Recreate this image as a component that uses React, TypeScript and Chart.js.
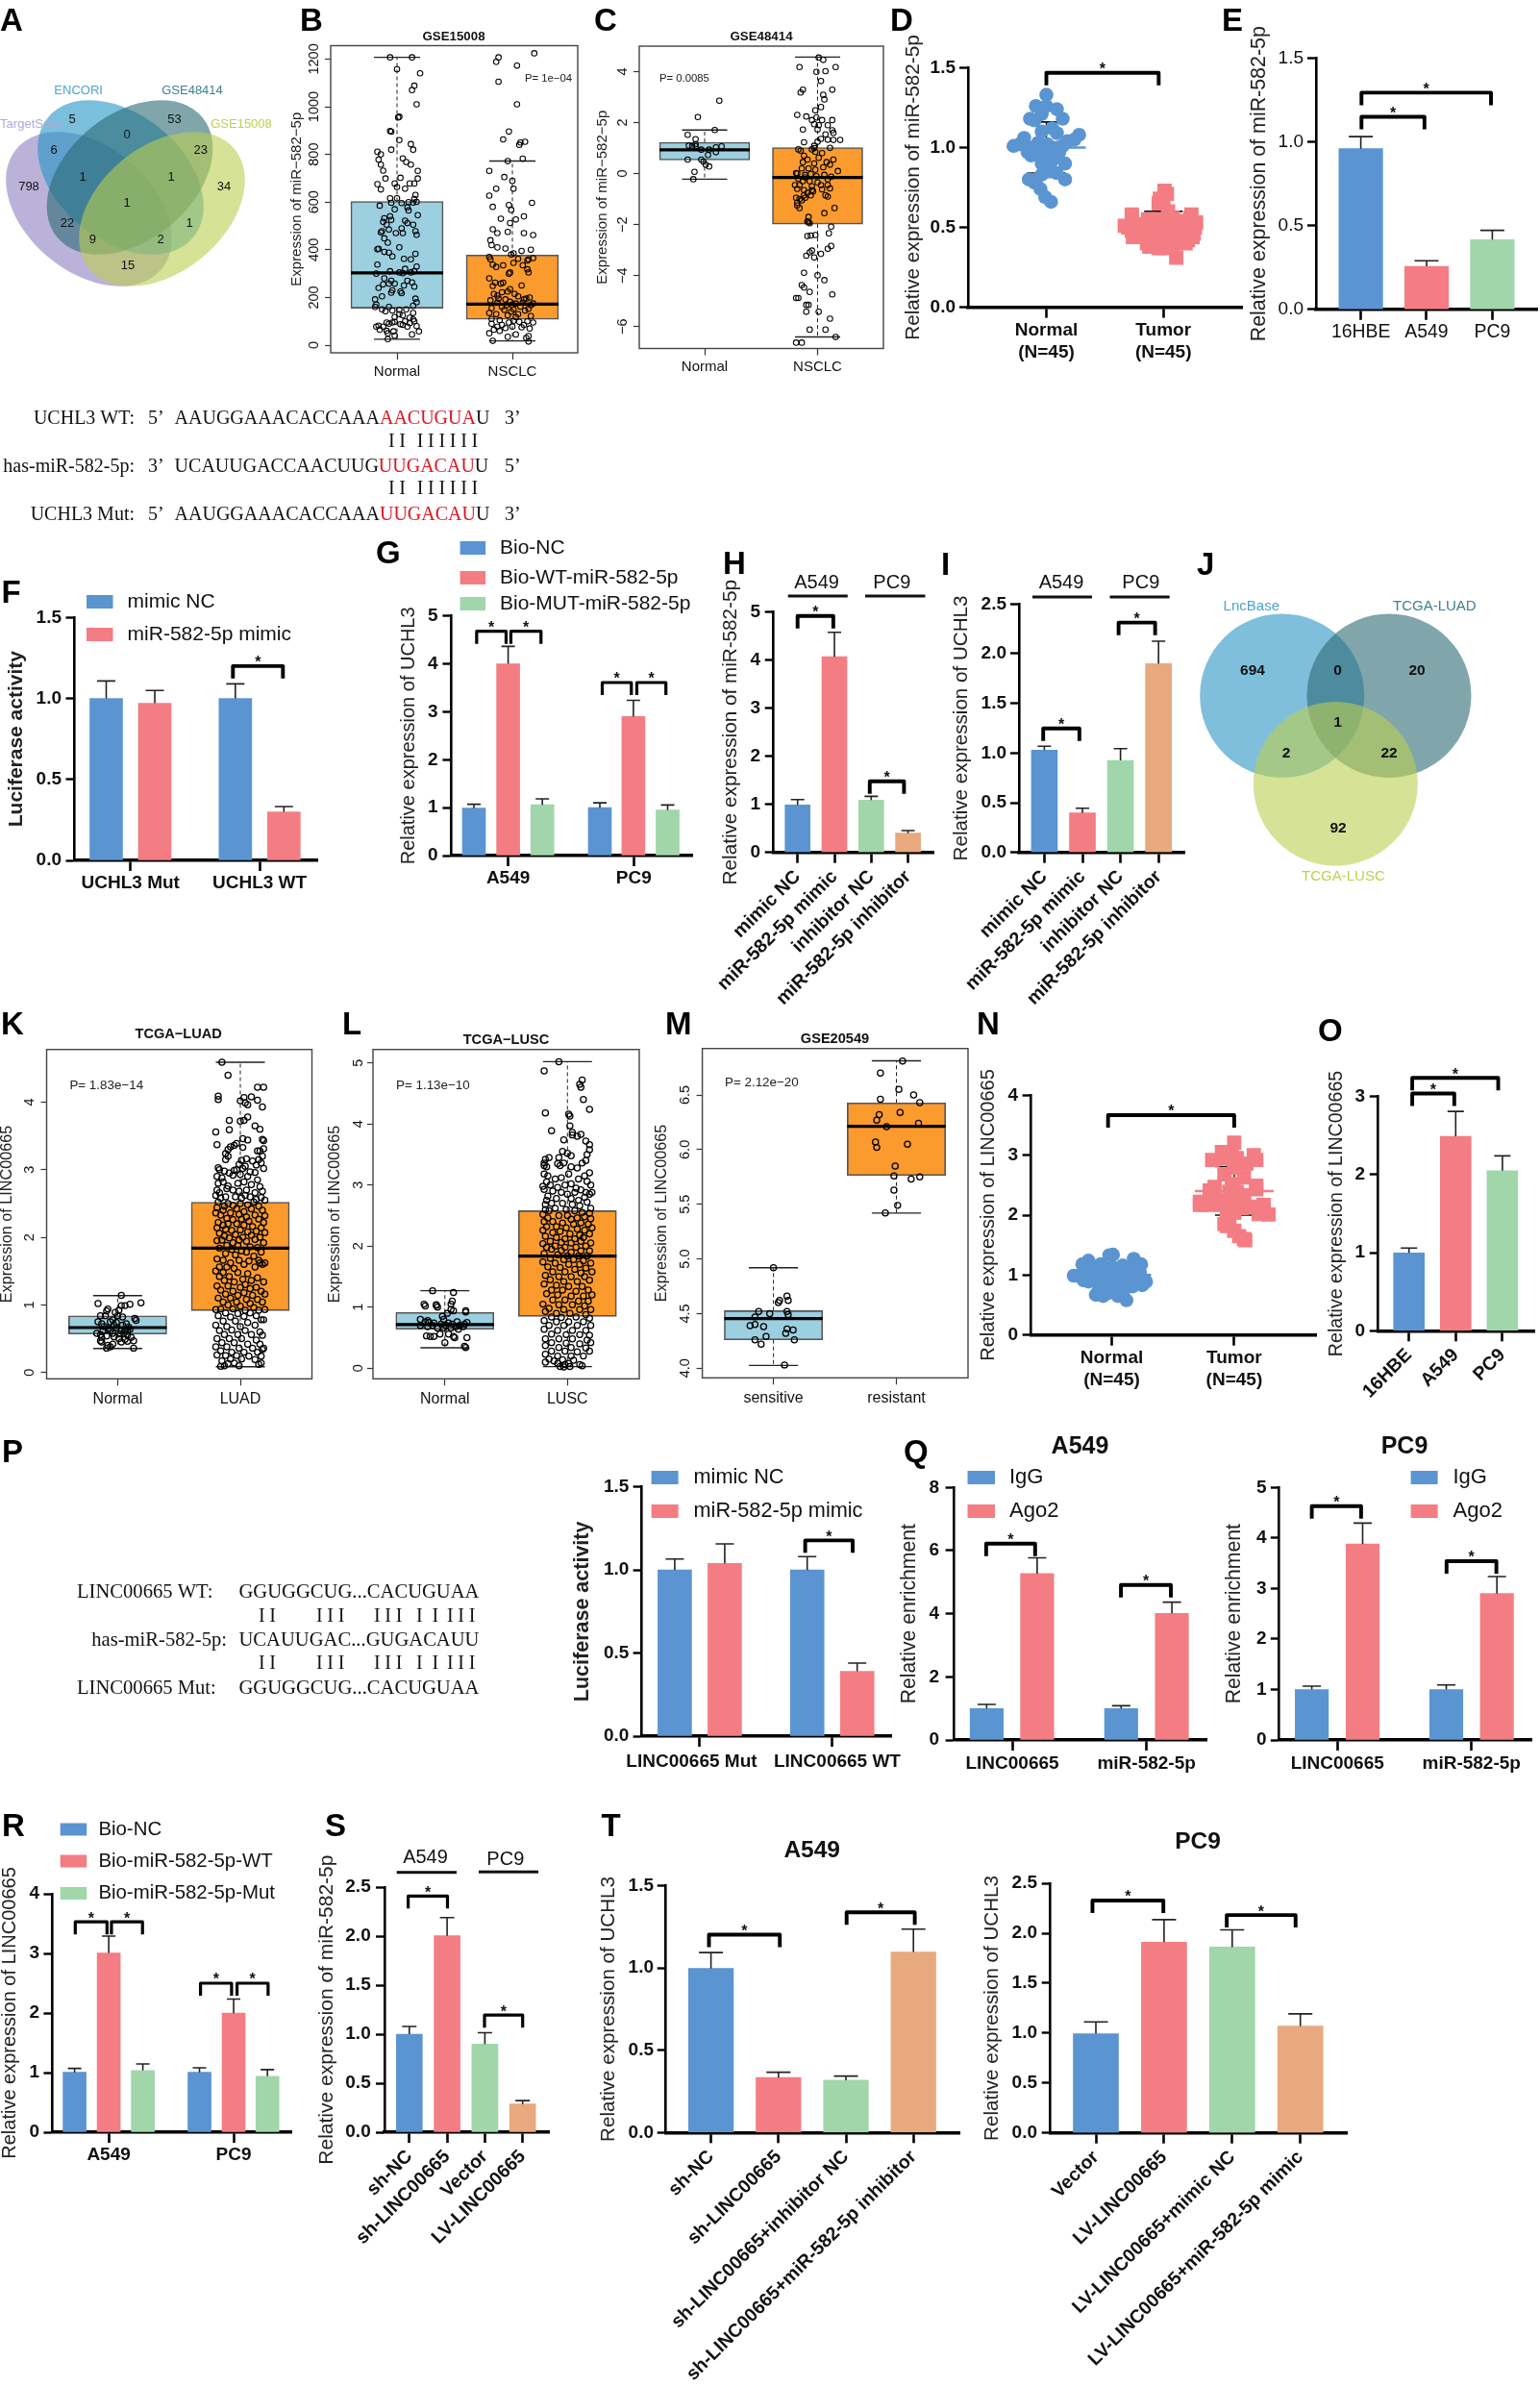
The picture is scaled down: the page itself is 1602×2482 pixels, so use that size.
import { useEffect, useRef } from 'react';
import Chart from 'chart.js/auto';

const SANS = '"Liberation Sans", Arial, sans-serif';
const SERIF = '"Liberation Serif", "Times New Roman", serif';
const BLUE = '#5a95d2', PINK = '#f47d83', GREEN = '#a1d5aa', TAN = '#e8a97e';
const BOXBLUE = '#9ccfdf', BOXORANGE = '#fb9a2d';

/* ---------- bar values ---------- */
const eLabels = ['16HBE', 'A549', 'PC9'];
const eValues = [0.96, 0.257, 0.417];
const eErrors = [1.032, 0.29, 0.472];
const fLabels = ['UCHL3 Mut', 'UCHL3 WT'];
const fValues = [1.0, 0.97, 1.0, 0.3];
const fErrors = [1.108, 1.049, 1.09, 0.332];
const gLabels = ['A549', 'PC9'];
const gValues = [0.99, 4.0, 1.06, 1.0, 2.9, 0.95];
const gErrors = [1.07, 4.365, 1.183, 1.1, 3.24, 1.056];
const hLabels = ['mimic NC', 'miR-582-5p mimic', 'inhibitor NC', 'miR-582-5p inhibitor'];
const hValues = [0.987, 4.07, 1.087, 0.4];
const hErrors = [1.1, 4.58, 1.167, 0.453];
const iValues = [1.03, 0.397, 0.926, 1.9];
const iErrors = [1.068, 0.445, 1.045, 2.126];
const oLabels = ['16HBE', 'A549', 'PC9'];
const oValues = [0.997, 2.49, 2.05];
const oErrors = [1.06, 2.81, 2.24];
const pLabels = ['LINC00665 Mut   ', '  LINC00665 WT'];
const pValues = [1.0, 1.04, 1.0, 0.39];
const pErrors = [1.066, 1.157, 1.08, 0.44];
const qLabels = ['LINC00665', 'miR-582-5p'];
const qaValues = [0.995, 5.27, 0.995, 4.01];
const qaErrors = [1.127, 5.77, 1.086, 4.365];
const qpValues = [1.0, 3.88, 1.0, 2.9];
const qpErrors = [1.066, 4.295, 1.09, 3.236];
const rLabels = ['A549', 'PC9'];
const rValues = [1.005, 3.008, 1.037, 1.005, 1.997, 0.94];
const rErrors = [1.07, 3.29, 1.146, 1.08, 2.234, 1.05];
const sLabels = ['sh-NC', 'sh-LINC00665', 'Vector', 'LV-LINC00665'];
const sValues = [1.0, 2.005, 0.9, 0.288];
const sErrors = [1.08, 2.19, 1.016, 0.323];
const taLabels = ['sh-NC', 'sh-LINC00665', 'sh-LINC00665+inhibitor NC', 'sh-LINC00665+miR-582-5p inhibitor'];
const taValues = [0.997, 0.334, 0.318, 1.097];
const taErrors = [1.094, 0.366, 0.343, 1.236];
const tpLabels = ['Vector', 'LV-LINC00665', 'LV-LINC00665+mimic NC', 'LV-LINC00665+miR-582-5p mimic'];
const tpValues = [0.994, 1.911, 1.862, 1.07];
const tpErrors = [1.112, 2.137, 2.034, 1.193];

/* ---------- dot plots: jitter (% of category gap), value ---------- */
const dNormal = [0,1.33,-9,1.26,0,1.26,9,1.24,-4,1.21,-14,1.18,14,1.18,-10,1.17,5,1.12,-4,1.1,9,1.09,28,1.08,-19,1.06,24,1.05,18,1.04,-28,1.01,-23,1.02,14,1.01,-6,1.01,5,1,-12,1,-16,.97,-2,.97,11,.97,-8,.96,7,.94,16,.9,-4,.9,3,.89,3,.85,9,.84,-4,.83,-15,.8,16,.8,-10,.78,-5,.74,-1,.69,4,.66,-7,1.03,1,1.02,10,1,-13,.95,5,.92,0,.87,-9,.8];
const dTumor = [1,.73,3,.71,-3,.68,0,.66,-4,.65,4,.6,-27,.58,24,.58,-27,.57,23,.56,-13,.55,-5,.55,8,.56,28,.53,14,.54,-18,.52,5,.53,-33,.51,27,.5,10,.51,-30,.5,-12,.5,-2,.5,18,.5,-27,.48,-20,.47,-7,.48,5,.47,13,.46,26,.46,-26,.44,-14,.44,25,.44,-2,.43,2,.42,21,.42,19,.4,-12,.38,-7,.38,0,.37,-14,.4,-4,.37,8,.38,10,.41,11,.31];
const nNormal = [1,1.34,-2,1.33,-19,1.24,18,1.27,-24,1.18,24,1.18,-9,1.18,9,1.16,-15,1.07,-23,1.05,1,1.13,-6,1.07,7,1.07,19,1.1,-28,.99,-15,1,17,1,1,.99,-31,.99,-23,.91,-19,.89,-3,.89,7,.91,15,.89,28,.89,25,.83,-7,.83,17,.81,11,.78,-11,.73,-7,.65,-3,.7,5,.65,7,.7,12,.58,-13,.67,-11,1.1,11,.98,23,1.05,-4,.98,6,.86,1,.78,-19,.95,22,.94,-10,.89];
const nTumor = [0,3.21,-10,3.05,-2,3.05,16,3,-18,2.92,18,2.92,-8,2.95,2,2.95,0,2.79,10,2.86,-8,2.68,8,2.63,18,2.49,-16,2.47,-2,2.52,-20,2.41,-4,2.39,18,2.43,8,2.33,-28,2.22,-20,2.2,-10,2.24,0,2.28,8,2.22,24,2.17,16,2.14,-20,2.18,-12,2.17,-2,2.12,6,2.12,24,2.09,20,2.02,28,2.01,-6,2.01,0,2.04,-28,2.17,-6,1.82,-8,1.85,0,1.74,4,1.65,8,1.6,9,1.58,-4,1.96,-24,2.17,-14,2.22,2,2.39];

/* ---------- box plots: [low whisker, q1, median, q3, high whisker] ---------- */
const bStats = [[25,155,303,603,1207],[18,108,172,378,772]];
const cStats = [[-0.22,0.53,0.93,1.23,1.71],[-6.41,-1.98,-0.15,1.02,4.57]];
const kStats = [[0.355,0.569,0.664,0.839,1.137],[0.085,0.915,1.84,2.52,4.59]];
const lStats = [[0.336,0.64,0.714,0.914,1.27],[0.026,0.85,1.838,2.58,5.02]];
const mStats = [[4.026,4.26,4.454,4.527,4.92],[5.42,5.764,6.213,6.427,6.813]];

/* ---------- box plot points: jitter (% of category gap), value ---------- */
const bNormal = [-6,1207,13,1207,0,1157,20,1140,15,1088,13,1070,17,1010,2,958,1,955,-6,898,-5,895,2,860,12,843,-5,820,14,820,-17,811,-14,800,-16,778,5,783,8,768,12,757,-14,757,-12,732,18,731,3,702,-10,699,18,699,-17,675,-2,678,15,678,11,678,-14,653,0,663,7,656,16,630,15,613,-6,616,0,616,-5,597,4,596,10,600,14,598,17,601,-15,585,9,578,-2,570,10,565,-6,540,-11,532,-5,525,7,522,18,545,-12,517,-9,505,9,512,14,505,4,490,-14,473,-13,478,-7,485,-1,470,5,470,16,478,17,463,-11,448,-8,430,-16,404,-17,402,-11,391,-7,388,16,383,2,410,-4,372,6,362,12,360,-17,338,7,320,17,330,-6,310,-18,300,2,305,5,302,12,305,15,310,-11,280,-5,270,9,270,13,263,-2,258,-12,255,-7,258,-16,240,6,250,15,245,-4,230,3,225,-5,220,-13,205,4,218,-19,192,16,195,17,180,-18,170,-19,160,14,165,-7,160,-13,150,-4,145,2,148,-10,142,8,150,14,135,2,130,5,125,-2,118,11,115,14,108,7,100,-16,82,-18,78,-12,78,-9,95,-7,90,-4,95,-2,98,3,88,5,85,11,92,15,100,17,80,9,78,-15,65,-9,60,-3,58,19,58,13,45,-2,40,-8,50,-8,25];
const bNSCLC = [19,1224,-12,1207,-14,1188,4,1172,-12,1105,4,1010,-3,896,-8,863,11,853,7,850,6,840,-4,772,9,782,-20,731,-7,705,0,689,1,656,-14,656,-20,627,17,597,-3,588,-17,580,-1,567,10,540,-10,530,3,527,-2,512,-17,486,-13,470,10,470,18,462,-4,475,-19,440,-13,410,-18,420,-6,405,8,395,16,400,-20,370,1,385,-1,380,-19,360,-8,335,-14,328,-2,305,-17,338,18,365,14,360,13,355,5,362,1,345,9,335,13,318,14,305,-3,300,-20,280,-15,262,-8,262,-10,258,-17,248,8,250,-2,235,-4,225,2,215,-16,215,-13,208,-9,222,-12,195,-6,192,5,205,12,195,10,192,15,200,-19,188,-13,178,-2,182,0,170,3,175,-5,168,9,178,16,168,18,175,-18,155,-9,160,-7,148,1,150,7,162,-1,140,11,145,14,152,-20,135,-14,130,5,130,-4,125,3,118,16,122,-18,110,-11,105,1,102,6,98,13,100,18,95,-18,90,-9,85,-13,78,-6,72,-3,95,8,75,10,85,15,70,-16,65,-11,60,0,78,-20,50,-4,35,3,45,12,30,14,38,14,15,-17,18];
const cNormal = [13,2.86,-6,2.22,9,1.71,-15,1.52,-8,1.35,-14,1.1,-11,1.07,-8,1.07,-8,1.15,-3,.94,10,.84,4,.94,10,1.03,15,1.07,-15,.55,3,.73,-3,.55,-1,.47,1,.35,4,.28,-9,.07,-10,-.22];
const cNSCLC = [1,4.55,5,4.46,-16,4.18,16,4.18,-1,3.99,7,4.02,3,3.63,13,3.29,-13,3.29,-15,3.18,5,3.09,6,2.91,3,2.61,-2,2.48,-18,2.3,-10,2.24,-1,2.2,4,2.1,13,2.1,-5,2.1,-3,1.94,1,1.9,9,1.9,-13,1.73,0,1.73,13,1.7,14,1.6,7,1.54,3,1.36,9,1.33,14,1.32,20,1.32,-12,1.23,0,1.25,-3,1.09,11,1.01,-17,.95,-15,.9,-5,.95,-2,.85,-3,1,4,.8,-12,.7,1,.62,-9,.55,-13,.45,-3,.4,8,.45,11,.35,14,.55,18,.1,-14,.2,-8,.2,-2,.15,5,.25,-19,.02,-18,.0,-11,-.05,-6,-.02,-1,-.1,6,-.05,-17,-.2,-13,-.3,0,-.35,9,-.22,12,-.12,-16,-.45,-11,-.15,-7,-.3,-5,-.5,3,-.45,9,-.45,-18,-.6,-20,-.45,-12,-.65,-9,-.75,-4,-.7,-5,-.65,4,-.62,11,-.58,-19,-.95,-16,-1.0,-12,-.85,7,-.85,9,-.9,-14,-1.05,-18,-1.15,-18,-1.25,-16,-1.35,-6,-.85,-11,-.95,15,-1.35,6,-1.55,-8,-1.7,-7,-1.95,-9,-1.88,12,-2.08,-8,-1.91,10,-2.34,-9,-2.45,-6,-2.43,-2,-2.41,12,-2.84,9,-2.95,-5,-3.02,-7,-3.09,-10,-3.22,3,-3.15,-3,-3.29,-12,-3.89,0,-3.99,6,-4.18,-14,-4.37,-12,-4.47,-7,-4.64,13,-4.74,-17,-4.88,-19,-4.88,-10,-5.15,-8,-5.15,-10,-5.42,1,-5.42,11,-5.69,-7,-6.12,7,-6.12,16,-6.41,-19,-6.63,-14,-6.63];
const kNormal = [3,1.14,-16,1.02,19,1.03,3,.99,10,1.01,6,.99,-8,.94,-9,.91,1,.92,-2,.89,-14,.84,-10,.84,0,.84,4,.82,15,.77,14,.8,-16,.75,-6,.75,-13,.72,-4,.78,7,.72,-11,.68,-8,.65,-3,.7,-1,.66,3,.62,8,.61,9,.67,-12,.62,-6,.62,-4,.58,2,.57,6,.63,10,.64,-17,.58,-14,.56,-13,.52,-9,.54,-3,.53,1,.5,6,.49,8,.55,11,.52,-14,.47,-13,.45,3,.45,8,.46,13,.47,-4,.42,-6,.38,-9,.36,-8,.4,13,.36,5,.58,-1,.74,4,.7];
const kLUAD = [-15,4.59,-10,4.4,14,4.22,19,4.22,-18,4.09,-18,4.04,9,4.08,3,4.07,0,4.02,14,4.03,4,3.99,6,3.96,18,3.93,6,3.78,-9,3.73,0,3.72,3,3.73,12,3.65,16,3.6,-9,3.59,-20,3.56,2,3.46,6,3.44,18,3.45,19,3.43,-19,3.37,-3,3.39,-8,3.34,-10,3.3,-12,3.24,16,3.28,19,3.31,14,3.28,2,3.33,-5,3.36,18,3.2,15,3.15,-12,3.15,-10,3.2,1,3.14,5,3.16,10,3.13,-1,3.08,4,3.05,13,3.07,17,3.1,-18,3.03,-17,3,-13,2.98,-9,2.95,-5,2.99,-3,3,2,3.02,8,2.97,12,2.96,19,3.02,-19,2.9,-15,2.88,-6,2.92,0,2.93,6,2.9,14,2.85,-18,2.8,-14,2.82,-10,2.76,-2,2.8,3,2.82,9,2.78,16,2.75,-19,2.7,-17,2.66,-11,2.72,-6,2.7,-1,2.68,5,2.7,12,2.66,18,2.68,-20,2.62,-16,2.58,-12,2.6,-4,2.6,1,2.58,4,2.62,8,2.6,13,2.56,17,2.59,20,2.55,-18,2.52,-10,2.5,-6,2.47,0,2.5,6,2.48,11,2.52,15,2.46,-19,2.44,-14,2.4,-13,2.46,-3,2.42,3,2.38,9,2.42,18,2.4,-20,2.36,-16,2.33,-8,2.36,-1,2.34,5,2.3,12,2.33,20,2.32,-11,2.28,-6,2.26,1,2.27,7,2.24,15,2.27,19,2.22,-18,2.22,-14,2.18,-10,2.2,-3,2.2,3,2.18,10,2.16,17,2.14,-19,2.14,-12,2.12,-7,2.1,0,2.11,6,2.08,13,2.09,20,2.07,-17,2.06,-13,2.02,-4,2.04,2,2,9,2.03,16,2,-9,1.99,-1,1.96,5,1.94,12,1.97,-6,1.92,-15,1.96,-19,1.95,19,1.92,-11,1.88,-2,1.88,8,1.86,14,1.85,-17,1.84,-7,1.82,1,1.8,5,1.78,17,1.78,-12,1.76,-4,1.74,11,1.72,-19,1.68,-14,1.66,-1,1.66,7,1.65,15,1.66,20,1.62,-8,1.62,3,1.6,-17,1.56,-11,1.56,-5,1.54,12,1.56,18,1.6,16,1.62,-20,1.5,-14,1.48,-2,1.48,6,1.46,-17,1.42,-9,1.42,2,1.38,9,1.36,14,1.4,-13,1.36,-5,1.34,4,1.3,19,1.34,-19,1.28,-10,1.28,0,1.26,8,1.24,13,1.26,-16,1.22,-6,1.2,3,1.18,17,1.2,-12,1.16,-2,1.14,10,1.14,20,1.16,-18,1.1,-8,1.1,5,1.08,14,1.08,-14,1.04,-3,1.04,8,1.02,18,1.04,-10,1,0,.98,11,.96,-20,.93,-16,.94,-6,.94,4,.92,15,.92,20,.93,-12,.88,-2,.87,8,.88,-18,.84,-8,.82,3,.83,13,.84,17,.78,19,.78,-14,.76,-4,.76,6,.74,-20,.7,-11,.68,0,.68,12,.7,-17,.62,-7,.63,4,.62,16,.6,-13,.56,-2,.56,9,.56,18,.55,-19,.5,-9,.5,1,.5,13,.48,-15,.44,-5,.44,6,.42,16,.42,-20,.38,-11,.38,-1,.36,10,.36,19,.36,-16,.32,-7,.3,3,.3,14,.3,18,.34,-19,.26,-12,.25,-3,.25,7,.24,17,.24,-8,.2,1,.2,12,.19,-15,.17,-10,.13,-5,.14,15,.12,17,.14,-16,.09,-13,.1,-1,.1];
const lNormal = [-10,1.27,7,1.24,6,1.1,5,1.05,-17,1.05,-16,1.02,-7,1.03,-6,1,-7,1.04,7,.94,5,.96,2,.9,17,.92,17,.94,-2,.85,-1,.8,10,.76,-20,.8,-16,.76,-14,.78,-13,.75,-9,.74,-3,.72,1,.7,3,.74,6,.72,9,.68,12,.7,16,.72,18,.75,-20,.7,-14,.68,-10,.7,-6,.66,-1,.66,5,.66,11,.64,15,.68,-15,.53,-12,.52,-9,.52,-4,.56,3,.56,7,.52,8,.5,18,.5,0,.42,17,.34,16,.36];
const lLUSC = [-7,5.02,-19,4.87,12,4.72,10,4.65,11,4.6,13,4.4,18,4.24,-18,4.18,1,4.16,2,4.13,-13,3.89,2,3.97,4,3.82,4,3.86,8,3.8,11,3.83,18,3.66,15,3.72,-3,3.74,18,3.58,16,3.5,-4,3.55,-7,3.45,0,3.52,3,3.48,-18,3.42,-19,3.36,-19,3.32,-17,3.3,-15,3.45,-8,3.35,-6,3.32,-3,3.36,3,3.3,8,3.28,12,3.36,15,3.4,18,3.2,14,3.15,-19,3.18,-16,3.15,-17,3.05,-10,3.1,-5,3.12,1,3.18,9,3.1,16,3.06,19,3,-20,2.98,-19,2.93,-14,3,-8,2.96,-2,3,3,3.02,7,2.95,-12,2.9,-5,2.88,0,2.85,6,2.88,11,2.92,15,2.88,18,2.85,20,2.88,-16,2.82,-17,2.75,-9,2.78,3,2.78,9,2.75,14,2.8,16,2.72,-18,2.68,-13,2.7,-4,2.7,4,2.68,10,2.66,19,2.62,-18,2.6,-15,2.58,-10,2.62,-1,2.6,6,2.58,12,2.55,18,2.54,-20,2.52,-16,2.46,-7,2.5,0,2.5,3,2.44,8,2.46,14,2.48,19,2.45,-19,2.4,-12,2.4,-4,2.38,5,2.36,11,2.38,17,2.36,-17,2.32,-9,2.32,-1,2.3,8,2.28,14,2.26,20,2.3,-20,2.26,-12,2.22,-6,2.24,2,2.2,10,2.18,18,2.2,-18,2.16,-9,2.14,-2,2.12,6,2.12,13,2.14,-14,2.08,-5,2.06,3,2.05,11,2.08,19,2.05,-20,2.04,-10,2,-2,1.98,7,1.98,15,2,-17,1.98,-13,1.95,-5,1.93,3,1.9,11,1.92,18,1.92,-19,1.88,-8,1.86,0,1.84,9,1.84,16,1.84,-14,1.8,-3,1.78,5,1.78,13,1.76,-20,1.74,-10,1.72,1,1.7,10,1.7,19,1.72,-16,1.66,-6,1.65,6,1.62,15,1.64,-12,1.58,-2,1.58,11,1.56,20,1.58,-18,1.52,-7,1.5,3,1.5,14,1.5,-14,1.45,-3,1.42,8,1.42,18,1.44,-19,1.38,-9,1.36,1,1.34,12,1.34,-13,1.28,-4,1.28,7,1.26,17,1.28,-17,1.22,-8,1.2,3,1.18,13,1.18,20,1.2,-12,1.12,-2,1.12,9,1.1,17,1.1,-20,1.05,-7,1.04,4,1.04,14,1.02,-15,.98,-3,.96,10,.96,19,.96,-18,.93,-9,.9,2,.9,15,.88,-13,.84,-5,.83,7,.84,18,.82,-19,.78,-9,.76,1,.76,13,.76,-15,.7,-3,.7,8,.7,19,.7,-19,.64,-8,.62,4,.62,15,.62,-13,.56,-1,.55,10,.55,18,.54,-18,.48,-7,.48,4,.48,16,.46,-13,.42,-1,.41,10,.4,19,.42,-18,.37,-7,.34,3,.34,15,.33,-13,.28,-2,.28,8,.27,18,.28,-18,.23,-8,.2,3,.2,13,.2,-15,.15,-11,.12,-4,.14,5,.13,-18,.1,-8,.08,-2,.06,1,.08,-6,.03,-3,.02,10,.06,12,.04,2,.03];
const mSensitive = [0,4.92,11,4.66,12,4.62,5,4.62,-12,4.52,-15,4.47,11,4.52,12,4.49,-19,4.39,11,4.36,-15,4.4,-8,4.38,16,4.35,10,4.32,-15,4.26,-3,4.5,-10,4.22,-6,4.29,17,4.26,9,4.03,4,4.6];
const mResistant = [5,6.81,-13,6.7,2,6.55,14,6.5,-13,6.46,19,6.43,-14,6.32,3,6.34,-16,6.27,18,6.24,-8,6.21,-17,6.07,-16,6.02,9,6.05,-1,5.85,-2,5.76,12,5.73,19,5.75,-2,5.63,1,5.49,-9,5.42];

/* ---------- panel text ---------- */
const panelLetters: any[] = [['A',0,32],['B',312,31.5],['C',618,32],['D',926,31.5],['E',1271,31.5],['F',1.5,627],['G',391,586],['H',752,597],['I',979,598],['J',1245,598],['K',1,1076],['L',356,1076],['M',692,1076],['N',1016,1076],['O',1371,1083],['P',2,1521],['Q',940,1521],['R',2,1910],['S',338,1910],['T',625.5,1910]];
const boxTitles: any[] = [['GSE15008',472,38.6,13.3],['GSE48414',792,38.6,13.3],['TCGA\u2212LUAD',185.7,1076,14.6],['TCGA\u2212LUSC',526.5,1082,14.6],['GSE20549',868.5,1081,14.6]];
const pTexts: any[] = [['P= 1e\u221204',546,82,11.3],['P= 0.0085',686,82,11.3],['P= 1.83e\u221214',72.4,1129,13.4],['P= 1.13e\u221210',412,1129,13.4],['P= 2.12e\u221220',754,1126.7,13.4]];
const plotTitles: any[] = [['A549',1123.5,1505,25],['PC9',1461,1505,25],['A549',844.7,1925.5,24.5],['PC9',1246,1916.3,24.5]];
const vennALabels: any[] = [['5',75,124.3],['53',181.6,124.3],['6',56,156.4],['0',132,140.4],['23',208.7,156.4],['798',30,194.3],['1',86,184.6],['1',178,184.6],['34',233,194.3],['1',132,211.8],['22',70,232.5],['1',197,232.5],['9',96.4,249.3],['2',167,249.3],['15',133,276.4]];
const vennANames: any[] = [['ENCORI',81.6,94.3,'#4aa5d2'],['GSE48414',200,94.3,'#3f8090'],['TargetScan',33,129.6,'#b3a5dc'],['GSE15008',251,129.6,'#bfcf50']];
const vennJLabels: any[] = [['694',1303,697.7],['0',1391.6,697.7],['20',1474,697.7],['1',1391.6,751.7],['2',1338,784],['22',1445,784],['92',1392,861.7]];
const vennJNames: any[] = [['LncBase',1301.8,631,'#4aa5d2'],['TCGA-LUAD',1492.3,630.7,'#3f8090'],['TCGA-LUSC',1397.4,911.7,'#bfcf50']];
const groupHeads: any[] = [['A549',849.6,606,819.7,881.8,620],['PC9',927.8,606.7,900,962.4,620],['A549',1104,606.7,1074,1136,621],['PC9',1186.8,606.7,1154.5,1216.7,621],['A549',442.5,1932.6,412.7,475,1947.7],['PC9',525.8,1934.6,498,560,1947.2]];
const uchl3Rows: any[] = [['UCHL3 WT:','5\u2019','AAUGGAAACACCAAA','AACUGUA','U','3\u2019',435.5],['has-miR-582-5p:','3\u2019','UCAUUGACCAACUUG','UUGACAU','U','5\u2019',486],['UCHL3 Mut:','5\u2019','AAUGGAAACACCAAA','UUGACAU','U','3\u2019',535.5]];
const lincRows: any[] = [['LINC00665 WT:',80,'left','GGUGGCUG...CACUGUAA',1657],['has-miR-582-5p:',236,'right','UCAUUGAC...GUGACAUU',1707],['LINC00665 Mut:',80,'left','GGUGGCUG...CACUGUAA',1756.5]];
const legends: any[] = [
  { names: ['mimic NC', 'miR-582-5p mimic'], colors: [BLUE, PINK], sx: 90, sw: 27.5, sh: 14, ys: [626, 660], tx: 132.6, size: 21 },
  { names: ['Bio-NC', 'Bio-WT-miR-582-5p', 'Bio-MUT-miR-582-5p'], colors: [BLUE, PINK, GREEN], sx: 478.6, sw: 26.5, sh: 14, ys: [570, 601, 628], tx: 520, size: 21 },
  { names: ['mimic NC', 'miR-582-5p mimic'], colors: [BLUE, PINK], sx: 677.6, sw: 28, sh: 14, ys: [1537, 1572], tx: 721.5, size: 21.7 },
  { names: ['IgG', 'Ago2'], colors: [BLUE, PINK], sx: 1006.5, sw: 28.5, sh: 14, ys: [1537, 1572], tx: 1050, size: 22 },
  { names: ['IgG', 'Ago2'], colors: [BLUE, PINK], sx: 1467.6, sw: 28, sh: 14, ys: [1537, 1572], tx: 1511.5, size: 22 },
  { names: ['Bio-NC', 'Bio-miR-582-5p-WT', 'Bio-miR-582-5p-Mut'], colors: [BLUE, PINK, GREEN], sx: 62.7, sw: 27.5, sh: 13, ys: [1903, 1936, 1969.5], tx: 102.4, size: 20.4 },
];

/* ---------- helpers ---------- */
function pts(flat: number[], cat: number) {
  const out: any[] = [];
  for (let i = 0; i + 1 < flat.length; i += 2) out.push({ x: cat + flat[i] / 100, y: flat[i + 1] });
  return out;
}
function measure(text: string, font: string) {
  const c = document.createElement('canvas').getContext('2d') as CanvasRenderingContext2D;
  c.font = font;
  return c.measureText(text).width;
}
function boxOf(p: any) {
  const left = Math.floor(p.plot.l - 80);
  const top = Math.floor(p.plot.t - 70);
  const w = Math.ceil(p.plot.r + 12) - left;
  const h = Math.ceil(p.plot.b + (p.rotate ? 262 : 72)) - top;
  return { left, top, w, h };
}

function buildConfig(p: any) {
  const b = boxOf(p);
  const r = p.plot.r, l = p.plot.l;
  const prism = p.kind !== 'box';
  const tickY = prism ? 9 : 6;
  const tickX = prism ? 11 : 7;
  const yFont = { family: SANS, size: p.ySize ?? 19, weight: p.yWeight ?? 'bold' };
  const fmt = (v: number) => v.toFixed(p.yDec ?? 0).replace('-', '\u2212');
  const yPad = prism
    ? l - tickY - p.yRight
    : l - tickY - p.yCx - Math.max(...p.yTicks.map((v: number) => measure(fmt(v), `${yFont.size}px ${SANS}`))) / 2;
  const xSize = p.xSize ?? (p.rotate ? 19.5 : 19);
  const xPad = p.rotate ? (p.xPad ?? 3) : p.xY - p.plot.b - tickX - (xSize * 1.2) / 2;
  const titleSize = p.tSize ?? 20.5;
  const datasets: any[] = [];
  if (p.kind === 'bar') {
    datasets.push({
      type: 'bar',
      data: p.values.map((v: number, i: number) => ({ x: p.slots[i], y: v })),
      backgroundColor: p.colors,
      borderWidth: 0,
      barThickness: p.barW,
    });
  } else if (p.kind === 'dot') {
    datasets.push({ type: 'scatter', data: pts(p.a, 0), pointStyle: 'circle', pointRadius: 7.3, backgroundColor: BLUE, borderWidth: 0 });
    datasets.push({ type: 'scatter', data: pts(p.c, 1), pointStyle: 'rect', pointRadius: 10.5, backgroundColor: PINK, borderWidth: 0 });
  } else {
    datasets.push({
      type: 'scatter',
      data: [...pts(p.a, 0), ...pts(p.c, 1)],
      pointRadius: p.pr ?? 3.1,
      backgroundColor: 'rgba(0,0,0,0)',
      borderColor: '#000',
      borderWidth: p.pw ?? 1.25,
    });
    datasets.push({
      type: 'bar',
      data: p.stats.map((s: number[], i: number) => ({ x: i, y: [s[1], s[3]] })),
      backgroundColor: [BOXBLUE, BOXORANGE],
      borderColor: '#555',
      borderWidth: 1.6,
      borderSkipped: false,
      barThickness: p.dx * 0.8,
    });
  }
  const deco = {
    id: 'deco' + p.id,
    beforeDatasetsDraw(chart: any) {
      const { ctx, scales: { x, y } } = chart;
      ctx.save();
      if (p.kind === 'box') {
        p.stats.forEach((s: number[], i: number) => {
          const px = x.getPixelForValue(i);
          ctx.strokeStyle = '#222'; ctx.lineWidth = 1;
          ctx.setLineDash([4, 3]);
          ctx.beginPath();
          ctx.moveTo(px, y.getPixelForValue(s[3])); ctx.lineTo(px, y.getPixelForValue(s[4]));
          ctx.moveTo(px, y.getPixelForValue(s[1])); ctx.lineTo(px, y.getPixelForValue(s[0]));
          ctx.stroke();
          ctx.setLineDash([]);
          ctx.lineWidth = 1.4;
          ctx.beginPath();
          const half = p.dx * 0.2;
          [s[0], s[4]].forEach((v) => { ctx.moveTo(px - half, y.getPixelForValue(v)); ctx.lineTo(px + half, y.getPixelForValue(v)); });
          ctx.stroke();
        });
      }
      if (p.kind === 'dot') {
        p.summary.forEach((m: number[], i: number) => {
          const px = x.getPixelForValue(i);
          ctx.strokeStyle = '#111'; ctx.lineWidth = 1.6;
          ctx.beginPath();
          ctx.moveTo(px, y.getPixelForValue(m[1])); ctx.lineTo(px, y.getPixelForValue(m[2]));
          [m[1], m[2]].forEach((v) => { ctx.moveTo(px - 20, y.getPixelForValue(v)); ctx.lineTo(px + 20, y.getPixelForValue(v)); });
          ctx.stroke();
          ctx.strokeStyle = i === 0 ? BLUE : PINK; ctx.lineWidth = 2.5;
          ctx.beginPath();
          ctx.moveTo(px - 41, y.getPixelForValue(m[0])); ctx.lineTo(px + 41, y.getPixelForValue(m[0]));
          ctx.stroke();
        });
      }
      ctx.restore();
    },
    afterDatasetDraw(chart: any, args: any) {
      if (p.kind !== 'box' || args.index !== 1) return;
      const { ctx, scales: { x, y } } = chart;
      ctx.save();
      ctx.strokeStyle = '#000'; ctx.lineWidth = 3.2;
      ctx.beginPath();
      p.stats.forEach((s: number[], i: number) => {
        const px = x.getPixelForValue(i), py = y.getPixelForValue(s[2]);
        ctx.moveTo(px - p.dx * 0.4, py); ctx.lineTo(px + p.dx * 0.4, py);
      });
      ctx.stroke();
      ctx.restore();
    },
    afterDatasetsDraw(chart: any) {
      const { ctx, chartArea: a, scales: { x, y } } = chart;
      ctx.save();
      if (p.kind === 'box') {
        ctx.strokeStyle = '#444'; ctx.lineWidth = 1.4;
        ctx.strokeRect(a.left, a.top, a.right - a.left, a.bottom - a.top);
      }
      if (p.kind === 'bar') {
        ctx.strokeStyle = '#222'; ctx.lineWidth = 1.6;
        ctx.beginPath();
        p.errs.forEach((e: number, i: number) => {
          const px = x.getPixelForValue(p.slots[i]);
          const half = (p.capW ?? p.barW * 0.5) / 2 + 1;
          ctx.moveTo(px, y.getPixelForValue(p.values[i])); ctx.lineTo(px, y.getPixelForValue(e));
          ctx.moveTo(px - half, y.getPixelForValue(e)); ctx.lineTo(px + half, y.getPixelForValue(e));
        });
        ctx.stroke();
      }
      (p.brackets ?? []).forEach((br: number[]) => {
        const x1 = x.getPixelForValue(br[0]), x2 = x.getPixelForValue(br[1]), yy = y.getPixelForValue(br[2]);
        ctx.strokeStyle = '#000'; ctx.lineWidth = p.bw ?? 3.9; ctx.lineJoin = 'round';
        ctx.beginPath();
        ctx.moveTo(x1, yy + 13); ctx.lineTo(x1, yy); ctx.lineTo(x2, yy); ctx.lineTo(x2, yy + 13);
        ctx.stroke();
        ctx.fillStyle = '#111'; ctx.font = `bold 16px ${SANS}`;
        ctx.textAlign = 'center'; ctx.textBaseline = 'middle';
        ctx.fillText('*', (x1 + x2) / 2, yy - 3);
      });
      ctx.restore();
    },
  };
  return {
    type: 'bar',
    data: { datasets },
    options: {
      responsive: false,
      animation: false,
      events: [],
      layout: { autoPadding: false, padding: { top: p.plot.t - b.top, right: b.left + b.w - r, left: 0, bottom: 0 } },
      plugins: { legend: { display: false }, tooltip: { enabled: false }, title: { display: false } },
      scales: {
        x: {
          type: 'linear',
          position: 'bottom',
          offset: false,
          min: (l - p.x0) / p.dx,
          max: (r - p.x0) / p.dx,
          afterBuildTicks: (s: any) => { s.ticks = p.xTicks.map((v: number) => ({ value: v })); },
          afterFit: (s: any) => {
            s.height = b.h - (p.plot.b - b.top);
            s.paddingLeft = s.paddingRight = s.paddingTop = s.paddingBottom = 0;
          },
          grid: { offset: false, drawOnChartArea: false, drawTicks: true, tickLength: tickX, tickWidth: prism ? 2.6 : 1.2, tickColor: prism ? '#000' : '#333' },
          border: { display: prism, width: 3.4, color: '#000' },
          ticks: {
            autoSkip: false,
            color: '#111',
            padding: xPad,
            minRotation: p.rotate ? 45 : 0,
            maxRotation: p.rotate ? 45 : 0,
            font: { family: SANS, size: xSize, weight: p.xWeight ?? 'bold' },
            callback: (_v: number, i: number) => p.xLabels[i],
          },
        },
        y: {
          type: 'linear',
          position: 'left',
          min: p.yMin ?? 0,
          max: p.yMax,
          afterBuildTicks: (s: any) => { s.ticks = p.yTicks.map((v: number) => ({ value: v })); },
          afterFit: (s: any) => {
            s.width = l - b.left;
            s.paddingLeft = s.paddingRight = s.paddingTop = s.paddingBottom = 0;
          },
          grid: { drawOnChartArea: false, drawTicks: true, tickLength: tickY, tickWidth: prism ? 2.4 : 1.2, tickColor: prism ? '#000' : '#333' },
          border: { display: prism, width: 2.6, color: '#000' },
          title: {
            display: true,
            text: p.yTitle,
            color: '#222',
            font: { family: SANS, size: titleSize, weight: p.tWeight ?? 'normal' },
            padding: { top: p.tX - b.left - (titleSize * 1.2) / 2, bottom: 0 },
          },
          ticks: {
            autoSkip: false,
            color: '#111',
            padding: yPad,
            font: yFont,
            minRotation: prism ? 0 : 90,
            maxRotation: prism ? 0 : 90,
            crossAlign: prism ? 'near' : 'center',
            callback: (v: number) => fmt(v),
          },
        },
      },
    },
    plugins: [deco],
  } as any;
}

/* ---------- panels ---------- */
const barPanel = (o: any) => ({ kind: 'bar', ...o });
const REL = 'Relative expression of ';
const panels: any[] = [
  { id: 'B', kind: 'box', plot: { l: 344, r: 601, t: 47.5, b: 367 }, yMin: -32, yMax: 1256, yTicks: [0, 200, 400, 600, 800, 1000, 1200], x0: 413, dx: 120, xTicks: [0, 1], xLabels: ['Normal', 'NSCLC'], xY: 387, xSize: 15, xWeight: 'normal', ySize: 14.5, yWeight: 'normal', yCx: 326.5, yTitle: 'Expression of miR\u2212582\u22125p', tX: 309, tSize: 15, stats: bStats, a: bNormal, c: bNSCLC, pr: 2.8, pw: 1.05 },
  { id: 'C', kind: 'box', plot: { l: 665, r: 919, t: 48, b: 362.5 }, yMin: -6.86, yMax: 5, yTicks: [-6, -4, -2, 0, 2, 4], x0: 733, dx: 117.5, xTicks: [0, 1], xLabels: ['Normal', 'NSCLC'], xY: 382, xSize: 15, xWeight: 'normal', ySize: 14.5, yWeight: 'normal', yCx: 648, yTitle: 'Expression of miR\u2212582\u22125p', tX: 626.5, tSize: 15, stats: cStats, a: cNormal, c: cNSCLC, pr: 2.8, pw: 1.05 },
  { id: 'D', kind: 'dot', plot: { l: 1007, r: 1292.6, t: 70.4, b: 319.6 }, yMax: 1.5, yTicks: [0, 0.5, 1, 1.5], yDec: 1, x0: 1088.5, dx: 121.7, xTicks: [0, 1], xLabels: [['Normal', '(N=45)'], ['Tumor', '(N=45)']], xY: 344, yRight: 994, yTitle: REL + 'miR-582-5p', tX: 950, tSize: 20.7, a: dNormal, c: dTumor, summary: [[1.0, 1.16, 0.84], [0.51, 0.6, 0.41]], brackets: [[0, 0.96, 1.468]] },
  barPanel({ id: 'E', plot: { l: 1369, r: 1599.5, t: 60.7, b: 321.8 }, yMax: 1.5, yTicks: [0, 0.5, 1, 1.5], yDec: 1, x0: 1415.6, dx: 68.4, slots: [0, 1, 2], xTicks: [0, 1, 2], xLabels: eLabels, xY: 345.7, xSize: 19.4, xWeight: 'normal', yRight: 1356, yWeight: 'normal', yTitle: REL + 'miR-582-5p', tX: 1310.5, tSize: 21.4, values: eValues, errs: eErrors, colors: [BLUE, PINK, GREEN], barW: 45.5, capW: 23, brackets: [[0.01, 0.968, 1.151], [0.01, 1.98, 1.295]] }),
  barPanel({ id: 'F', plot: { l: 77.5, r: 330, t: 642.3, b: 895 }, yMax: 1.5, yTicks: [0, 0.5, 1, 1.5], yDec: 1, x0: 110.5, dx: 50.5, slots: [0, 1, 2.66, 3.66], xTicks: [0.5, 3.16], xLabels: fLabels, xY: 919, yRight: 64, yTitle: 'Luciferase activity', tX: 17, tSize: 21, tWeight: 'bold', values: fValues, errs: fErrors, colors: [BLUE, PINK, BLUE, PINK], barW: 34, capW: 17, brackets: [[2.61, 3.64, 1.2]] }),
  barPanel({ id: 'G', plot: { l: 469.4, r: 720, t: 640.7, b: 890 }, yMax: 5, yTicks: [0, 1, 2, 3, 4, 5], x0: 493, dx: 35.6, slots: [0, 1, 2, 3.68, 4.66, 5.66], xTicks: [1, 4.67], xLabels: gLabels, xY: 914, yRight: 455.6, yTitle: REL + 'UCHL3', tX: 425, tSize: 20, bw: 3.2, values: gValues, errs: gErrors, colors: [BLUE, PINK, GREEN, BLUE, PINK, GREEN], barW: 24, capW: 12, brackets: [[0.08, 0.94, 4.68], [1.08, 1.96, 4.68], [3.75, 4.6, 3.61], [4.76, 5.61, 3.61]] }),
  barPanel({ id: 'H', plot: { l: 804.7, r: 971.6, t: 636.7, b: 886.7 }, rotate: true, yMax: 5, yTicks: [0, 1, 2, 3, 4, 5], x0: 829.7, dx: 38.3, slots: [0, 1, 2, 3], xTicks: [0, 1, 2, 3], xLabels: hLabels, yRight: 791, yTitle: REL + 'miR-582-5p', tX: 760.4, tSize: 20.7, values: hValues, errs: hErrors, colors: [BLUE, PINK, GREEN, TAN], barW: 26, capW: 12, brackets: [[0, 0.97, 4.92], [1.96, 2.89, 1.48]] }),
  barPanel({ id: 'I', plot: { l: 1060, r: 1232.8, t: 628.3, b: 886.7 }, rotate: true, yMax: 2.5, yTicks: [0, 0.5, 1, 1.5, 2, 2.5], yDec: 1, x0: 1086.4, dx: 39.6, slots: [0, 1, 2, 3], xTicks: [0, 1, 2, 3], xLabels: hLabels, yRight: 1047, yTitle: REL + 'UCHL3', tX: 1000, tSize: 20.6, values: iValues, errs: iErrors, colors: [BLUE, PINK, GREEN, TAN], barW: 27, capW: 12, brackets: [[-0.03, 0.92, 1.248], [1.95, 2.91, 2.313]] }),
  { id: 'K', kind: 'box', plot: { l: 48.5, r: 324.5, t: 1091.7, b: 1434.3 }, yMin: -0.094, yMax: 4.78, yTicks: [0, 1, 2, 3, 4], x0: 122.4, dx: 127.6, xTicks: [0, 1], xLabels: ['Normal', 'LUAD'], xY: 1455.7, xSize: 16, xWeight: 'normal', ySize: 14.5, yWeight: 'normal', yCx: 31, yTitle: 'Expression of LINC00665', tX: 8, tSize: 16.2, stats: kStats, a: kNormal, c: kLUAD },
  { id: 'L', kind: 'box', plot: { l: 388, r: 665, t: 1091.7, b: 1434.3 }, yMin: -0.173, yMax: 5.22, yTicks: [0, 1, 2, 3, 4, 5], x0: 462.8, dx: 127.5, xTicks: [0, 1], xLabels: ['Normal', 'LUSC'], xY: 1455.7, xSize: 16, xWeight: 'normal', ySize: 14.5, yWeight: 'normal', yCx: 373, yTitle: 'Expression of LINC00665', tX: 349, tSize: 16.2, stats: lStats, a: lNormal, c: lLUSC },
  { id: 'M', kind: 'box', plot: { l: 730.6, r: 1007, t: 1090.7, b: 1433.3 }, yMin: 3.912, yMax: 6.925, yTicks: [4, 4.5, 5, 5.5, 6, 6.5], yDec: 1, x0: 804.6, dx: 127.9, xTicks: [0, 1], xLabels: ['sensitive', 'resistant'], xY: 1455, xSize: 16, xWeight: 'normal', ySize: 14.5, yWeight: 'normal', yCx: 712.8, yTitle: 'Expression of LINC00665', tX: 688.8, tSize: 16.2, stats: mStats, a: mSensitive, c: mResistant },
  { id: 'N', kind: 'dot', plot: { l: 1072.6, r: 1369.3, t: 1139.3, b: 1388.7 }, yMax: 4, yTicks: [0, 1, 2, 3, 4], x0: 1156.5, dx: 127.4, xTicks: [0, 1], xLabels: [['Normal', '(N=45)'], ['Tumor', '(N=45)']], xY: 1412.7, yRight: 1059, yTitle: REL + 'LINC00665', tX: 1028.6, tSize: 20, a: nNormal, c: nTumor, summary: [[1.0, 1.2, 0.81], [2.4, 2.81, 2.0]], brackets: [[-0.03, 1, 3.668]] },
  barPanel({ id: 'O', plot: { l: 1433.8, r: 1596.4, t: 1140.7, b: 1384.3 }, rotate: true, yMax: 3, yTicks: [0, 1, 2, 3], x0: 1465.7, dx: 48.6, slots: [0, 1, 2], xTicks: [0, 1, 2], xLabels: oLabels, yRight: 1420, yTitle: REL + 'LINC00665', tX: 1390.8, tSize: 19.6, values: oValues, errs: oErrors, colors: [BLUE, PINK, GREEN], barW: 32, capW: 15, brackets: [[0.07, 0.97, 3.04], [0.07, 1.91, 3.24]] }),
  barPanel({ id: 'P', plot: { l: 667.6, r: 927.4, t: 1546.7, b: 1806 }, yMax: 1.5, yTicks: [0, 0.5, 1, 1.5], yDec: 1, x0: 701.9, dx: 52, slots: [0, 1, 2.65, 3.65], xTicks: [0.49, 3.15], xLabels: pLabels, xY: 1833, xSize: 19, yRight: 654.4, yTitle: 'Luciferase activity', tX: 606.5, tSize: 21.5, tWeight: 'bold', values: pValues, errs: pErrors, colors: [BLUE, PINK, BLUE, PINK], barW: 35, capW: 17, brackets: [[2.61, 3.56, 1.178]] }),
  barPanel({ id: 'Qa', plot: { l: 992.6, r: 1255.7, t: 1547.3, b: 1810 }, yMax: 8, yTicks: [0, 2, 4, 6, 8], x0: 1026.4, dx: 52.5, slots: [0, 1, 2.665, 3.67], xTicks: [0.507, 3.166], xLabels: qLabels, xY: 1835, yRight: 977, yTitle: 'Relative enrichment', tX: 946, tSize: 21.2, values: qaValues, errs: qaErrors, colors: [BLUE, PINK, BLUE, PINK], barW: 34.5, capW: 17, brackets: [[-0.01, 0.96, 6.22], [2.66, 3.65, 4.91]] }),
  barPanel({ id: 'Qp', plot: { l: 1330.8, r: 1593, t: 1547.3, b: 1810 }, yMax: 5, yTicks: [0, 1, 2, 3, 4, 5], x0: 1364.6, dx: 52.9, slots: [0, 1, 2.645, 3.64], xTicks: [0.503, 3.14], xLabels: qLabels, xY: 1835, yRight: 1317.5, yTitle: 'Relative enrichment', tX: 1284, tSize: 21.2, values: qpValues, errs: qpErrors, colors: [BLUE, PINK, BLUE, PINK], barW: 34.5, capW: 17, brackets: [[0, 0.97, 4.63], [2.65, 3.63, 3.54]] }),
  barPanel({ id: 'R', plot: { l: 54.4, r: 303.6, t: 1970, b: 2218 }, yMax: 4, yTicks: [0, 1, 2, 3, 4], x0: 77.6, dx: 35.5, slots: [0, 1, 2, 3.66, 4.66, 5.65], xTicks: [1, 4.66], xLabels: rLabels, xY: 2241.7, yRight: 41, yTitle: REL + 'LINC00665', tX: 10.7, tSize: 20, bw: 3.2, values: rValues, errs: rErrors, colors: [BLUE, PINK, GREEN, BLUE, PINK, GREEN], barW: 24, capW: 12, brackets: [[0.02, 0.95, 3.53], [1.08, 1.99, 3.53], [3.69, 4.6, 2.5], [4.76, 5.67, 2.5]] }),
  barPanel({ id: 'S', plot: { l: 400, r: 571.4, t: 1963.2, b: 2218 }, rotate: true, yMax: 2.5, yTicks: [0, 0.5, 1, 1.5, 2, 2.5], yDec: 1, x0: 425.8, dx: 39.3, slots: [0, 1, 2, 3], xTicks: [0, 1, 2, 3], xLabels: sLabels, yRight: 385.7, yTitle: REL + 'miR-582-5p', tX: 340, tSize: 21, bw: 3.2, values: sValues, errs: sErrors, colors: [BLUE, PINK, GREEN, TAN], barW: 27, capW: 13, brackets: [[-0.03, 1.01, 2.41], [1.99, 3, 1.195]] }),
  barPanel({ id: 'Ta', plot: { l: 692.7, r: 998.7, t: 1961.6, b: 2218.3 }, rotate: true, yMax: 1.5, yTicks: [0, 0.5, 1, 1.5], yDec: 1, x0: 739.6, dx: 70.2, slots: [0, 1, 2, 3], xTicks: [0, 1, 2, 3], xLabels: taLabels, yRight: 680, yTitle: REL + 'UCHL3', tX: 633, tSize: 20.6, values: taValues, errs: taErrors, colors: [BLUE, PINK, GREEN, TAN], barW: 46.6, capW: 23, brackets: [[-0.03, 1.02, 1.203], [2.01, 3.02, 1.338]] }),
  barPanel({ id: 'Tp', plot: { l: 1092.7, r: 1401.3, t: 1959.2, b: 2218.7 }, rotate: true, yMax: 2.5, yTicks: [0, 0.5, 1, 1.5, 2, 2.5], yDec: 1, x0: 1140, dx: 70.9, slots: [0, 1, 2, 3], xTicks: [0, 1, 2, 3], xLabels: tpLabels, yRight: 1079, yTitle: REL + 'UCHL3', tX: 1032.6, tSize: 20.6, values: tpValues, errs: tpErrors, colors: [BLUE, PINK, GREEN, TAN], barW: 47, capW: 23, brackets: [[-0.05, 0.99, 2.328], [1.92, 2.93, 2.183]] }),
];

/* ---------- Venn shapes and free text drawn on a page-sized chart ---------- */
const vennAShapes: any[] = [
  { cx: 92.5, cy: 217.5, rx: 98, ry: 65.5, rot: 39.5, color: 'rgb(142,127,192)' },
  { cx: 125.5, cy: 184.5, rx: 98, ry: 65.5, rot: 39.5, color: 'rgb(34,148,197)' },
  { cx: 135, cy: 184.5, rx: 98, ry: 65.5, rot: -39.5, color: 'rgb(43,107,117)' },
  { cx: 168.5, cy: 217.5, rx: 98, ry: 65.5, rot: -39.5, color: 'rgb(187,207,80)' },
];
const vennJShapes: any[] = [
  { cx: 1333.7, cy: 723.7, rx: 85.5, ry: 85.3, rot: 0, color: 'rgb(42,148,197)' },
  { cx: 1445, cy: 723.7, rx: 85.5, ry: 85.3, rot: 0, color: 'rgb(43,107,117)' },
  { cx: 1389.3, cy: 815.3, rx: 85.5, ry: 85.3, rot: 0, color: 'rgb(187,207,80)' },
];

const overlayPlugin = {
  id: 'overlay',
  afterDraw(chart: any) {
    const ctx: CanvasRenderingContext2D = chart.ctx;
    ctx.save();
    const put = (t: string, x: number, y: number, font: string, color = '#111', align: CanvasTextAlign = 'center') => {
      ctx.font = font; ctx.fillStyle = color; ctx.textAlign = align; ctx.textBaseline = 'middle';
      ctx.fillText(t, x, y);
    };
    [...vennAShapes, ...vennJShapes].forEach((s) => {
      ctx.globalAlpha = 0.6;
      ctx.fillStyle = s.color;
      ctx.beginPath();
      ctx.ellipse(s.cx, s.cy, s.rx, s.ry, (s.rot * Math.PI) / 180, 0, Math.PI * 2);
      ctx.fill();
    });
    ctx.globalAlpha = 1;
    vennALabels.forEach((v) => put(v[0], v[1], v[2], `13px ${SANS}`));
    vennANames.forEach((v) => put(v[0], v[1], v[2], `13px ${SANS}`, v[3]));
    vennJLabels.forEach((v) => put(v[0], v[1], v[2], `bold 15.5px ${SANS}`));
    vennJNames.forEach((v) => put(v[0], v[1], v[2], `15px ${SANS}`, v[3]));
    boxTitles.forEach((v) => put(v[0], v[1], v[2], `bold ${v[3]}px ${SANS}`));
    pTexts.forEach((v) => put(v[0], v[1], v[2], `${v[3]}px ${SANS}`, '#222', 'left'));
    plotTitles.forEach((v) => put(v[0], v[1], v[2], `bold ${v[3]}px ${SANS}`));
    groupHeads.forEach((g) => {
      put(g[0], g[1], g[2], `20px ${SANS}`);
      ctx.fillStyle = '#111';
      ctx.fillRect(g[3], g[5] - 1.5, g[4] - g[3], 3);
    });
    legends.forEach((lg) => {
      lg.names.forEach((n: string, i: number) => {
        ctx.fillStyle = lg.colors[i];
        ctx.fillRect(lg.sx, lg.ys[i] - lg.sh / 2, lg.sw, lg.sh);
        put(n, lg.tx, lg.ys[i], `${lg.size}px ${SANS}`, '#111', 'left');
      });
    });
    const serif = `20px ${SERIF}`;
    const serifP = `20.6px ${SERIF}`;
    uchl3Rows.forEach((r) => {
      const y = r[6];
      put(r[0], 140, y, serif, '#111', 'right');
      put(r[1], 154, y, serif, '#111', 'left');
      let x = 181.6;
      put(r[2], x, y, serif, '#111', 'left'); x += ctx.measureText(r[2]).width;
      put(r[3], x, y, serif, '#e01420', 'left'); x += ctx.measureText(r[3]).width;
      put(r[4], x, y, serif, '#111', 'left');
      put(r[5], 525, y, serif, '#111', 'left');
    });
    lincRows.forEach((r) => {
      put(r[0], r[1], r[4], serifP, '#111', r[2]);
      put(r[3], 248.5, r[4], serifP, '#111', 'left');
    });
    (ctx as any).letterSpacing = '4.7px';
    [460, 508.6].forEach((y) => {
      put('II', 404, y, serif, '#111', 'left');
      put('IIIIII', 433.7, y, serif, '#111', 'left');
    });
    [1681.7, 1730.7].forEach((y) => {
      put('II', 269, y, serif, '#111', 'left');
      put('III', 329, y, serif, '#111', 'left');
      put('III', 389, y, serif, '#111', 'left');
      put('I', 433, y, serif, '#111', 'left');
      put('I', 449.5, y, serif, '#111', 'left');
      put('III', 465, y, serif, '#111', 'left');
    });
    (ctx as any).letterSpacing = '0px';
    panelLetters.forEach((v) => {
      ctx.font = `bold 33px ${SANS}`; ctx.fillStyle = '#000'; ctx.textAlign = 'left'; ctx.textBaseline = 'alphabetic';
      ctx.fillText(v[0], v[1], v[2]);
    });
    ctx.restore();
  },
};

function Overlay() {
  const ref = useRef<HTMLCanvasElement>(null);
  useEffect(() => {
    const chart = new Chart(ref.current as any, {
      type: 'scatter',
      data: { datasets: [] },
      options: {
        responsive: false, animation: false, events: [],
        scales: { x: { display: false }, y: { display: false } },
        plugins: { legend: { display: false }, tooltip: { enabled: false } },
      },
      plugins: [overlayPlugin],
    } as any);
    return () => chart.destroy();
  }, []);
  return <canvas ref={ref} width={1602} height={2482} style={{ position: 'absolute', left: 0, top: 0 }} />;
}

function Panel({ cfg }: { cfg: any }) {
  const ref = useRef<HTMLCanvasElement>(null);
  useEffect(() => {
    const chart = new Chart(ref.current as any, buildConfig(cfg));
    return () => chart.destroy();
  }, [cfg]);
  const b = boxOf(cfg);
  return <canvas ref={ref} width={b.w} height={b.h} style={{ position: 'absolute', left: b.left, top: b.top }} />;
}

export default function App() {
  return (
    <div style={{ position: 'absolute', left: 0, top: 0, width: 1602, height: 2482, overflow: 'hidden', background: '#fff' }}>
      <Overlay />
      {panels.map((p) => <Panel key={p.id} cfg={p} />)}
    </div>
  );
}
